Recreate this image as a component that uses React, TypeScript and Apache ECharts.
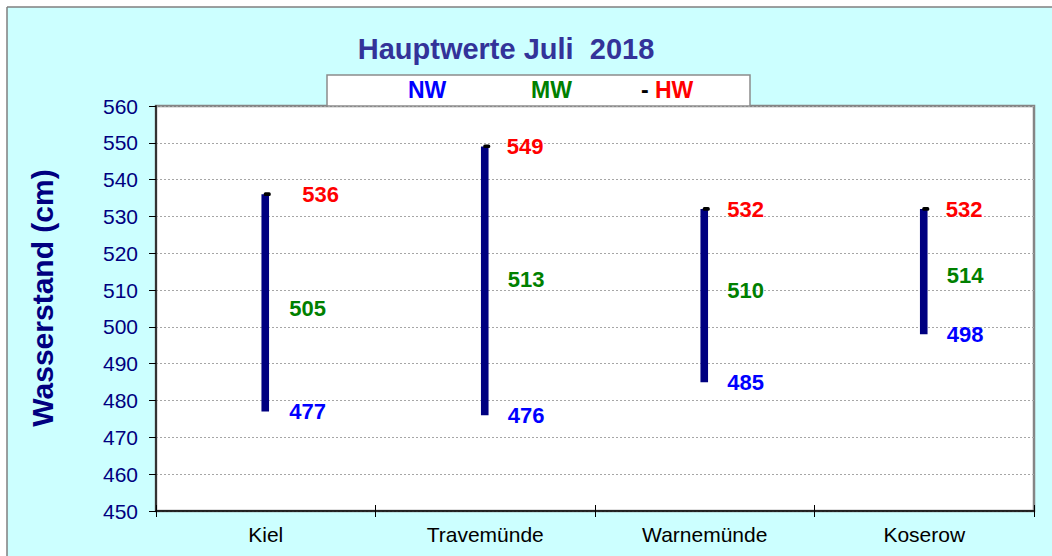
import React, { useEffect, useRef } from "react";
import * as echarts from "echarts";

const categories = ["Kiel", "Travemünde", "Warnemünde", "Koserow"];
const nwValues = [477, 476, 485, 498];
const mwValues = [505, 513, 510, 514];
const hwValues = [536, 549, 532, 532];
const yTicks = { min: 450, max: 560, interval: 10 };

// label x-offsets (style only)
const nwLabelDx = [23, 22, 22, 22];
const mwLabelDx = [23, 22, 22, 22];
const hwLabelDx = [36, 21, 22, 21];

const FONT = "'Liberation Sans', Arial, sans-serif";

function labelSeries(name: string, values: number[], dx: number[], color: string) {
  return {
    name,
    type: "scatter",
    symbolSize: 1,
    itemStyle: { color: "rgba(0,0,0,0)", opacity: 1 },
    emphasis: { disabled: true },
    z: 5,
    data: values.map((v, i) => ({
      value: [i, v],
      label: { offset: [dx[i], 0] },
    })),
    label: {
      show: true,
      position: "right",
      distance: 0,
      formatter: (p: any) => String(p.value[1]),
      color,
      opacity: 1,
      fontSize: 22,
      fontWeight: "bold",
      fontFamily: FONT,
    },
  };
}

export default function App() {
  const ref = useRef<HTMLDivElement>(null);
  useEffect(() => {
    if (!ref.current) return;
    const chart = echarts.init(ref.current, null, { renderer: "svg" });
    const option: any = {
      animation: false,
      backgroundColor: "#CCFFFF",
      textStyle: { fontFamily: FONT },
      grid: {
        show: true,
        left: 156,
        right: 18,
        top: 106,
        bottom: 45,
        backgroundColor: "#ffffff",
        borderColor: "#858585",
        borderWidth: 2.5,
      },
      xAxis: [
        {
          type: "category",
          data: categories,
          position: "bottom",
          axisLine: { show: true, lineStyle: { color: "#000", width: 1.5 } },
          axisTick: { show: true, length: 6, lineStyle: { color: "#000", width: 1 } },
          axisLabel: { color: "#000", fontSize: 21, fontFamily: FONT, margin: 13 },
          splitLine: { show: false },
        },
        {
          type: "category",
          data: categories,
          position: "bottom",
          axisLine: { show: false },
          axisTick: { show: true, inside: true, length: 6, lineStyle: { color: "#000", width: 1 } },
          axisLabel: { show: false },
          splitLine: { show: false },
        },
      ],
      yAxis: {
        type: "value",
        min: yTicks.min,
        max: yTicks.max,
        interval: yTicks.interval,
        axisLine: { show: true, lineStyle: { color: "#333", width: 2 } },
        axisTick: { show: true, length: 7, lineStyle: { color: "#000", width: 1 } },
        axisLabel: { color: "#000080", fontSize: 21, fontFamily: FONT, margin: 18 },
        splitLine: { show: true, lineStyle: { color: "#a6a6a6", width: 1, type: [2, 2] } },
      },
      graphic: [
        { type: "rect", shape: { x: 0, y: 0, width: 1052, height: 7 }, style: { fill: "#fff" } },
        { type: "rect", shape: { x: 0, y: 0, width: 7, height: 556 }, style: { fill: "#fff" } },
        { type: "line", shape: { x1: 7, y1: 7, x2: 1052, y2: 7 }, style: { stroke: "#7f7f7f", lineWidth: 1.5 } },
        { type: "line", shape: { x1: 7, y1: 7, x2: 7, y2: 556 }, style: { stroke: "#7f7f7f", lineWidth: 1.5 } },
        {
          type: "text",
          x: 506,
          y: 49,
          style: {
            text: "Hauptwerte Juli  2018",
            fill: "#333399",
            font: `bold 29px ${FONT}`,
            textAlign: "center",
            textVerticalAlign: "middle",
          },
        },
        {
          type: "rect",
          shape: { x: 327, y: 75, width: 423, height: 31 },
          style: { fill: "#fff", stroke: "#8c8c8c", lineWidth: 1.5 },
        },
        {
          type: "text",
          x: 408,
          y: 90,
          style: { text: "NW", fill: "#0000FF", font: `bold 23px ${FONT}`, textVerticalAlign: "middle" },
        },
        {
          type: "text",
          x: 531,
          y: 90,
          style: { text: "MW", fill: "#008000", font: `bold 23px ${FONT}`, textVerticalAlign: "middle" },
        },
        {
          type: "text",
          x: 641,
          y: 90,
          style: { text: "-", fill: "#000", font: `bold 23px ${FONT}`, textVerticalAlign: "middle" },
        },
        {
          type: "text",
          x: 655,
          y: 90,
          style: { text: "HW", fill: "#FF0000", font: `bold 23px ${FONT}`, textVerticalAlign: "middle" },
        },
        {
          type: "text",
          x: 42,
          y: 298,
          rotation: Math.PI / 2,
          style: {
            text: "Wasserstand (cm)",
            fill: "#000080",
            font: `bold 30px ${FONT}`,
            textAlign: "center",
            textVerticalAlign: "middle",
          },
        },
      ],
      series: [
        {
          name: "range",
          type: "custom",
          z: 3,
          data: categories.map((_, i) => [i, nwValues[i], hwValues[i]]),
          encode: { x: 0, y: [1, 2] },
          renderItem: (params: any, api: any) => {
            const i = api.value(0);
            const lo = api.coord([i, api.value(1)]);
            const hi = api.coord([i, api.value(2)]);
            return {
              type: "group",
              children: [
                {
                  type: "rect",
                  shape: { x: lo[0] - 4.3, y: hi[1], width: 7.6, height: lo[1] - hi[1] },
                  style: { fill: "#000080" },
                },
                {
                  type: "rect",
                  shape: { x: hi[0] - 2, y: hi[1] - 2, width: 7, height: 3.6, r: 1.5 },
                  style: { fill: "#000" },
                },
              ],
            };
          },
        },
        labelSeries("NW", nwValues, nwLabelDx, "#0000FF"),
        labelSeries("MW", mwValues, mwLabelDx, "#008000"),
        labelSeries("HW", hwValues, hwLabelDx, "#FF0000"),
      ],
    };
    chart.setOption(option);
    return () => chart.dispose();
  }, []);
  return (
    <div style={{ position: "fixed", left: 0, top: 0, width: 1052, height: 556, background: "#fff" }}>
      <div ref={ref} style={{ width: 1052, height: 556 }} />
    </div>
  );
}
